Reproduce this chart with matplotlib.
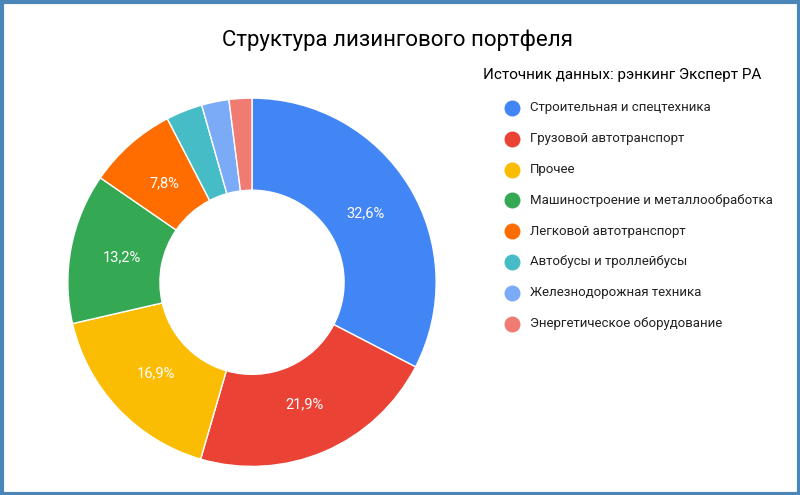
import matplotlib.pyplot as plt
from matplotlib.patches import Rectangle

plt.rcParams['font.family'] = ['Roboto', 'DejaVu Sans']

categories = ['Строительная и спецтехника', 'Грузовой автотранспорт', 'Прочее',
              'Машиностроение и металлообработка', 'Легковой автотранспорт',
              'Автобусы и троллейбусы', 'Железнодорожная техника',
              'Энергетическое оборудование']
shares = [32.6, 21.9, 16.9, 13.2, 7.8, 3.2, 2.4, 2.0]
colors = ['#4285f4', '#ea4335', '#fbbc04', '#34a853', '#ff6d01',
          '#46bdc6', '#7baaf7', '#f07b72']

fig = plt.figure(figsize=(8, 4.95), dpi=100)

# donut
ax = fig.add_axes([0.0825, 0.054, 0.465, 0.7515])
ax.pie(shares, colors=colors, startangle=90, counterclock=False,
       wedgeprops=dict(width=0.5, edgecolor='white', linewidth=1),
       autopct=lambda p: f'{p:.1f}%'.replace('.', ',') if p > 5 else '',
       pctdistance=0.72, textprops=dict(color='white', fontsize=10.5))
ax.set_aspect('equal')
ax.set_xlim(-1.01, 1.01)
ax.set_ylim(-1.01, 1.01)

# overlay in pixel coordinates for title, legend and frame
ov = fig.add_axes([0, 0, 1, 1], zorder=-1)
ov.set_xlim(0, 800)
ov.set_ylim(495, 0)
ov.axis('off')
ov.add_patch(Rectangle((1.5, 1.5), 797, 492, fill=False, edgecolor='#4a86b8', linewidth=3))

ov.text(398, 40, 'Структура лизингового портфеля', ha='center', va='center', fontsize=16)
ov.text(483, 75, 'Источник данных: рэнкинг Эксперт РА', ha='left', va='center', fontsize=11)
for i, (name, c) in enumerate(zip(categories, colors)):
    y = 108 + i * 30.8
    ov.scatter([512], [y], s=110, color=c)
    ov.text(530, y, name, ha='left', va='center', fontsize=9.5, color='#222222')

fig.savefig('out.png', dpi=100)
